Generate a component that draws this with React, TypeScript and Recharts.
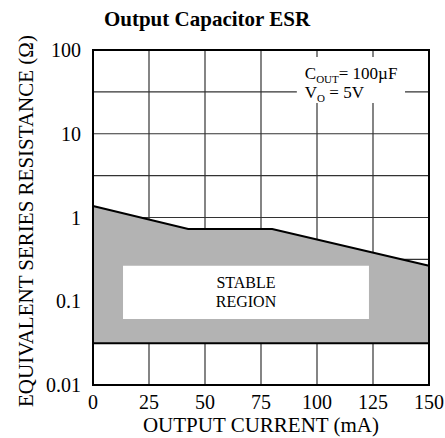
import React from "react";
import {
  ComposedChart,
  Area,
  XAxis,
  YAxis,
  ReferenceLine,
  ReferenceArea,
} from "recharts";

const FONT = "'Liberation Serif', 'Times New Roman', serif";

// output current (mA) at the corners of the stable-region boundary
const currents = [0, 42.5, 80, 150];
// upper ESR limit (ohm)
const esrMax = [1.37, 0.73, 0.73, 0.265];
// lower ESR limit (ohm)
const esrMin = [0.0316, 0.0316, 0.0316, 0.0316];

const xTicks = [0, 25, 50, 75, 100, 125, 150];
const yTicks = [0.01, 0.1, 1, 10, 100];
const xGrid = [25, 50, 75, 100, 125];
const yGrid = [0.0316, 0.1, 0.316, 1, 3.16, 10, 31.6];

const stableX = [13.4, 123.2];
const stableY = [0.0614, 0.265];
const noteX = [91, 139.3];
const noteY = [23.3, 82.5];

const data = currents.map((c, i) => ({
  current: c,
  esr: [esrMin[i], esrMax[i]],
}));

const StableLabel = (props: any) => {
  const vb = props.viewBox;
  const cx = vb.x + vb.width / 2;
  return (
    <text fontFamily={FONT} fontSize={16} fill="#000" textAnchor="middle">
      <tspan x={cx} y={vb.y + 22}>STABLE</tspan>
      <tspan x={cx} y={vb.y + 41}>REGION</tspan>
    </text>
  );
};

const NoteLabel = (props: any) => {
  const vb = props.viewBox;
  const x = vb.x + 8;
  return (
    <g fontFamily={FONT} fill="#000">
      <text x={x} y={vb.y + 22} fontSize={17}>
        C<tspan fontSize={11} dy={4}>OUT</tspan>
        <tspan dy={-4}>= 100µF</tspan>
      </text>
      <text x={x} y={vb.y + 41} fontSize={17}>
        V<tspan fontSize={11} dy={4}>O</tspan>
        <tspan dy={-4}> = 5V</tspan>
      </text>
    </g>
  );
};

const XTick = (p: any) => (
  <text x={p.x} y={p.y} dy={14} textAnchor="middle" fontFamily={FONT} fontSize={20} fill="#000">
    {p.payload.value}
  </text>
);

const YTick = (p: any) => (
  <text x={p.x} y={p.y} dy={7} textAnchor="end" fontFamily={FONT} fontSize={20} fill="#000">
    {p.payload.value}
  </text>
);

export default function App() {
  return (
    <div
      style={{
        position: "absolute",
        left: 0,
        top: 0,
        width: 445,
        height: 438,
        background: "#fff",
        fontFamily: FONT,
      }}
    >
      <ComposedChart
        width={445}
        height={438}
        data={data}
        margin={{ top: 50, right: 16, bottom: 0, left: 0 }}
      >
        <XAxis
          dataKey="current"
          type="number"
          domain={[0, 150]}
          ticks={xTicks}
          interval={0}
          height={53}
          axisLine={false}
          tickLine={false}
          tickSize={0}
          tickMargin={10}
          tick={XTick}
        />
        <YAxis
          type="number"
          scale="log"
          domain={[0.01, 100]}
          allowDataOverflow
          ticks={yTicks}
          interval={0}
          width={93}
          axisLine={false}
          tickLine={false}
          tickSize={0}
          tickMargin={12}
          tick={YTick}
        />
        {xGrid.map((v) => (
          <ReferenceLine key={"x" + v} x={v} stroke="#333" strokeWidth={1.2} zIndex={-50} />
        ))}
        {yGrid.map((v) => (
          <ReferenceLine key={"y" + v} y={v} stroke="#333" strokeWidth={1.2} zIndex={-50} />
        ))}
        <Area
          type="linear"
          dataKey="esr"
          fill="#b3b3b3"
          fillOpacity={1}
          stroke="#000"
          strokeWidth={2}
          isAnimationActive={false}
          dot={false}
          activeDot={false}
        />
        <ReferenceArea
          x1={stableX[0]}
          x2={stableX[1]}
          y1={stableY[0]}
          y2={stableY[1]}
          fill="#fff"
          fillOpacity={1}
          stroke="none"
          zIndex={150}
          label={<StableLabel />}
        />
        <ReferenceArea
          x1={noteX[0]}
          x2={noteX[1]}
          y1={noteY[0]}
          y2={noteY[1]}
          fill="#fff"
          fillOpacity={1}
          stroke="none"
          zIndex={150}
          label={<NoteLabel />}
        />
        <ReferenceArea
          x1={0}
          x2={150}
          y1={0.01}
          y2={100}
          fill="none"
          stroke="#000"
          strokeWidth={2}
          zIndex={600}
          ifOverflow="visible"
        />
      </ComposedChart>
      <svg
        width={445}
        height={438}
        style={{ position: "absolute", left: 0, top: 0, pointerEvents: "none" }}
        fontFamily={FONT}
        fill="#000"
      >
        <text x={207} y={26} textAnchor="middle" fontSize={21} fontWeight="bold">
          Output Capacitor ESR
        </text>
        <text
          x={26}
          y={221}
          transform="rotate(-90, 26, 221)"
          textAnchor="middle"
          dominantBaseline="central"
          fontSize={21}
        >
          EQUIVALENT SERIES RESISTANCE (Ω)
        </text>
        <text x={261} y={432} textAnchor="middle" fontSize={21}>
          OUTPUT CURRENT (mA)
        </text>
      </svg>
    </div>
  );
}
